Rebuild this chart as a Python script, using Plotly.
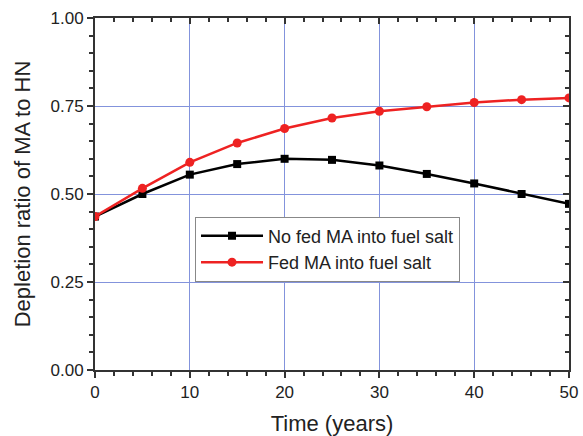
import plotly.graph_objects as go

# Depletion ratio of minor actinides (MA) to heavy nuclides (HN) over time
years = [0, 5, 10, 15, 20, 25, 30, 35, 40, 45, 50]
no_fed_ma = [0.436, 0.500, 0.555, 0.585, 0.600, 0.597, 0.581, 0.557, 0.530, 0.500, 0.472]
fed_ma = [0.436, 0.516, 0.590, 0.645, 0.686, 0.716, 0.735, 0.748, 0.760, 0.768, 0.773]

series_names = ["No fed MA into fuel salt", "Fed MA into fuel salt"]
y_ticks = [0.0, 0.25, 0.5, 0.75, 1.0]
y_tick_text = ["0.00", "0.25", "0.50", "0.75", "1.00"]
x_ticks = [0, 10, 20, 30, 40, 50]

FONT = "Arial, Liberation Sans, sans-serif"
GRID = "#8393dc"

fig = go.Figure()
fig.add_trace(go.Scatter(
    x=years, y=no_fed_ma, name=series_names[0], mode="lines+markers",
    line=dict(color="black", width=2.5),
    marker=dict(symbol="square", size=8, color="black"),
))
fig.add_trace(go.Scatter(
    x=years, y=fed_ma, name=series_names[1], mode="lines+markers",
    line=dict(color="#ee2222", width=2.5),
    marker=dict(symbol="circle", size=9, color="#ee2222"),
))

axis_common = dict(linecolor="#333333", linewidth=2, ticklen=6, tickwidth=1.5,
                   tickcolor="#333333", zeroline=False, automargin=False, showline=True)

fig.update_layout(
    width=583, height=436,
    margin=dict(l=95, r=14, t=18, b=66),
    paper_bgcolor="white", plot_bgcolor="white",
    font=dict(family=FONT, color="#222222"),
    showlegend=True,
    legend=dict(
        x=0.211, y=0.436, xanchor="left", yanchor="top",
        bgcolor="white", bordercolor="#888888", borderwidth=1,
        font=dict(size=18, family=FONT, color="#222222"),
        tracegroupgap=0, itemwidth=62,
    ),
    xaxis=dict(
        range=[0, 50], tickvals=x_ticks, ticks="outside",
        minor=dict(dtick=2, ticks="outside", ticklen=4, tickcolor="#333333", showgrid=False),
        showgrid=True, gridcolor=GRID, gridwidth=1,
        tickfont=dict(size=17), title=dict(text="Time (years)", font=dict(size=22), standoff=14),
        **axis_common,
    ),
    yaxis=dict(
        range=[0, 1.0], tickvals=y_ticks, ticktext=y_tick_text, ticks="outside",
        minor=dict(dtick=0.05, ticks="outside", ticklen=4, tickcolor="#333333", showgrid=False),
        showgrid=True, gridcolor=GRID, gridwidth=1,
        tickfont=dict(size=17), title=dict(text="Depletion ratio of MA to HN", font=dict(size=22), standoff=14),
        **axis_common,
    ),
    # mirrored frame with inward ticks on top and right
    xaxis2=dict(
        range=[0, 50], overlaying="x", side="top", tickvals=x_ticks, ticks="inside",
        minor=dict(dtick=2, ticks="inside", ticklen=4, tickcolor="#333333"),
        showticklabels=False, showgrid=False, **axis_common,
    ),
    yaxis2=dict(
        range=[0, 1.0], overlaying="y", side="right", tickvals=y_ticks, ticks="inside",
        minor=dict(dtick=0.05, ticks="inside", ticklen=4, tickcolor="#333333"),
        showticklabels=False, showgrid=False, **axis_common,
    ),
)

# invisible trace to activate the secondary axes
fig.add_trace(go.Scatter(x=[None], y=[None], xaxis="x2", yaxis="y2",
                         showlegend=False, hoverinfo="skip"))

fig.write_html("out.html")
